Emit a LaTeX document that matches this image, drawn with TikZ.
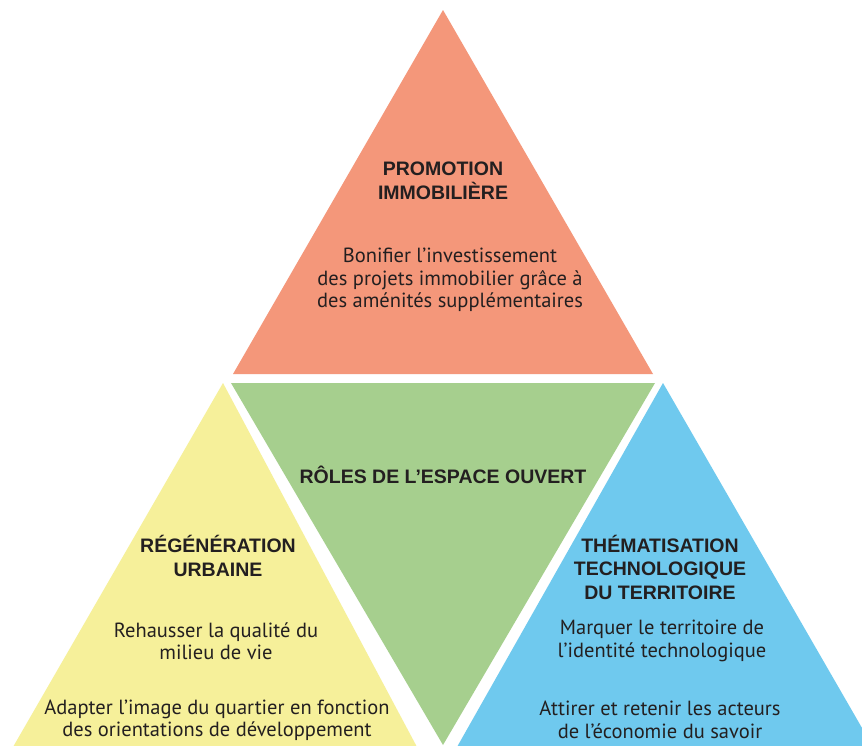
\documentclass[tikz,border=0pt]{standalone}
\usepackage{fontspec}
\setmainfont{PT Sans}
\newfontfamily\headfont{Liberation Sans}
\definecolor{orangeT}{RGB}{244,151,122}
\definecolor{greenT}{RGB}{166,207,142}
\definecolor{yellowT}{RGB}{246,240,154}
\definecolor{blueT}{RGB}{111,201,238}
\definecolor{txt}{RGB}{35,31,32}
\begin{document}
\begin{tikzpicture}[x=1pt,y=-1pt,
  head/.style={align=center,inner sep=0pt,text=txt,font=\headfont\bfseries\fontsize{19.5}{23.5}\selectfont},
  body/.style={align=center,inner sep=0pt,text=txt,font=\fontsize{20.5}{22.5}\selectfont}]
\useasboundingbox[fill=white] (0,0) rectangle (862,745);
\begin{scope}
\clip (0,0) rectangle (862,745);
\fill[orangeT] (443,10) -- (233,374) -- (653,374) -- cycle;
\fill[greenT] (231,383) -- (655,383) -- (443,745) -- cycle;
\fill[yellowT] (223,383) -- (13,747) -- (417,747) -- cycle;
\fill[blueT] (663,383) -- (457,747) -- (873,747) -- cycle;
\end{scope}
\node[head] (promoT) at (443,181) {PROMOTION\\IMMOBILIÈRE};
\node[body] (promoB) at (450,280) {Bonifier l’investissement\\des projets immobilier grâce à\\des aménités supplémentaires};
\node[head] (center) at (443,475) {RÔLES DE L’ESPACE OUVERT};
\node[head] (regenT) at (218,556) {RÉGÉNÉRATION\\URBAINE};
\node[body] (regenB1) at (216,641) {Rehausser la qualité du\\milieu de vie};
\node[body] (regenB2) at (217,720) {Adapter l’image du quartier en fonction\\des orientations de développement};
\node[head] (techT) at (660,567) {THÉMATISATION\\TECHNOLOGIQUE\\DU TERRITOIRE};
\node[body] (techB1) at (662,641) {Marquer le territoire de\\l’identité technologique};
\node[body] (techB2) at (660,720) {Attirer et retenir les acteurs\\de l’économie du savoir};
\end{tikzpicture}
\end{document}
